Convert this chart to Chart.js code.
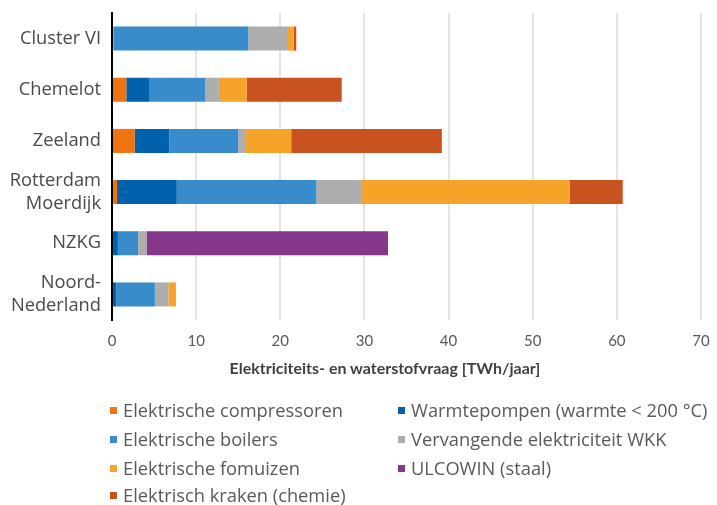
<!DOCTYPE html>
<html><head><meta charset="utf-8">
<script src="https://cdn.jsdelivr.net/npm/chart.js@4"></script>
<style>
body{margin:0;background:#fff;width:717px;height:505px;overflow:hidden;font-family:'Open Sans',sans-serif}
#wrap{position:absolute;left:0;top:0;width:717px;height:385px}
#legend{position:absolute;left:0;top:0;width:717px;height:505px;pointer-events:none}
.item{position:absolute;display:flex;align-items:center;font-size:18.3px;line-height:22px;height:22px;color:#595959;white-space:nowrap}
.box{width:7px;height:7px;margin-right:6px;flex:none}
#xtitle{position:absolute;top:358px;left:0;width:770px;text-align:center;font-family:Lato,sans-serif;font-weight:bold;font-size:16px;color:#404040;line-height:20px}
</style></head><body>
<div id="wrap"><canvas id="c"></canvas></div>
<div id="xtitle"></div>
<div id="legend"></div>
<script>
const categories = ['Cluster VI', 'Chemelot', 'Zeeland', ['Rotterdam', 'Moerdijk'], 'NZKG', ['Noord-', 'Nederland']];
const seriesNames = ['Elektrische compressoren', 'Warmtepompen (warmte < 200 °C)', 'Elektrische boilers', 'Vervangende elektriciteit WKK', 'Elektrische fomuizen', 'ULCOWIN (staal)', 'Elektrisch kraken (chemie)'];
const compressoren = [0.2, 1.7, 2.7, 0.6, 0, 0];
const warmtepompen = [0, 2.7, 4.1, 7.1, 0.7, 0.5];
const boilers = [16.0, 6.7, 8.2, 16.6, 2.4, 4.6];
const wkk = [4.6, 1.6, 0.8, 5.4, 1.0, 1.6];
const fornuizen = [0.8, 3.3, 5.5, 24.7, 0, 0.9];
const ulcowin = [0, 0, 0, 0, 28.7, 0];
const kraken = [0.3, 11.3, 17.9, 6.3, 0, 0];
const xTicks = [0, 10, 20, 30, 40, 50, 60, 70];
const axisTitle = 'Elektriciteits- en waterstofvraag [TWh/jaar]';

const colors = ['#EE7410', '#0062AD', '#398CCC', '#ADADAD', '#F5A32A', '#853789', '#C8531F'];
const seriesData = [compressoren, warmtepompen, boilers, wkk, fornuizen, ulcowin, kraken];

const chart = new Chart(document.getElementById('c'), {
  type: 'bar',
  data: {
    labels: categories,
    datasets: seriesData.map((d, i) => ({
      label: seriesNames[i], data: d, backgroundColor: colors[i], borderWidth: 0,
      barPercentage: 0.47, categoryPercentage: 1
    }))
  },
  options: {
    indexAxis: 'y', responsive: true, maintainAspectRatio: false, animation: false,
    layout: { padding: { left: 0, right: 16, top: 13, bottom: 0 } },
    plugins: { legend: { display: false }, tooltip: { enabled: false } },
    scales: {
      x: {
        stacked: true, min: 0, max: 70,
        afterBuildTicks: s => { s.ticks = xTicks.map(v => ({ value: v })); },
        afterFit: s => { s.height = 65; s.paddingLeft = 0; s.paddingRight = 0; },
        grid: { color: '#e3e3e3', lineWidth: 2, drawTicks: false },
        border: { display: false },
        ticks: { font: { family: 'Lato', size: 15 }, color: '#595959', padding: 12 }
      },
      y: {
        stacked: true,
        afterFit: s => { s.width = 112; s.paddingTop = 0; s.paddingBottom = 0; },
        grid: { display: false, drawTicks: false },
        border: { display: true, color: '#000', width: 2 },
        ticks: { autoSkip: false, font: { family: 'Open Sans', size: 18.3, lineHeight: 1.25 }, color: '#4a4a4a', padding: 11 }
      }
    }
  }
});

document.getElementById('xtitle').textContent = axisTitle;

const leg = document.getElementById('legend');
const colX = [110, 398];
const rowY = [410, 439, 468, 495];
chart.data.datasets.forEach((ds, i) => {
  const el = document.createElement('div');
  el.className = 'item';
  el.style.left = colX[i % 2] + 'px';
  el.style.top = (rowY[Math.floor(i / 2)] - 11) + 'px';
  const b = document.createElement('span');
  b.className = 'box';
  b.style.background = ds.backgroundColor;
  const t = document.createElement('span');
  t.textContent = ds.label;
  el.appendChild(b); el.appendChild(t);
  leg.appendChild(el);
});
</script>
</body></html>
